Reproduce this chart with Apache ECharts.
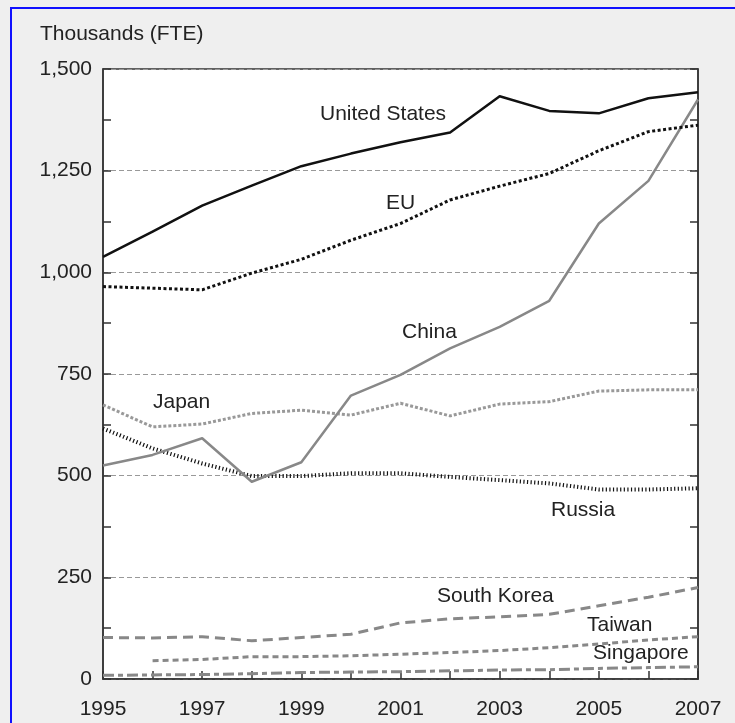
<!DOCTYPE html>
<html>
<head>
<meta charset="utf-8">
<script src="https://cdn.jsdelivr.net/npm/echarts@6/dist/echarts.min.js"></script>
<style>
  html, body { margin: 0; padding: 0; background: #efefef; }
  #frame {
    position: absolute; left: 10px; top: 7px; width: 740px; height: 740px;
    border-left: 2px solid #1010ff; border-top: 2px solid #1010ff;
  }
  #chart { position: absolute; left: 0; top: 0; width: 735px; height: 723px; }
</style>
</head>
<body>
<div id="frame"></div>
<div id="chart"></div>
<script>
// data (thousands of FTE researchers)
const years = [1995, 1996, 1997, 1998, 1999, 2000, 2001, 2002, 2003, 2004, 2005, 2006, 2007]
const unitedStates = [1038, 1100, 1164, 1213, 1261, 1292, 1320, 1344, 1433, 1397, 1391, 1428, 1443]
const eu = [965, 961, 957, 998, 1032, 1079, 1120, 1178, 1212, 1243, 1299, 1346, 1362]
const china = [525, 551, 592, 485, 533, 697, 748, 813, 866, 930, 1120, 1225, 1425]
const japan = [674, 620, 627, 653, 661, 649, 678, 647, 676, 682, 708, 711, 711]
const russia = [616, 567, 530, 499, 499, 506, 506, 497, 489, 481, 466, 466, 469]
const southKorea = [102, 101, 104, 94, 102, 110, 138, 148, 153, 159, 180, 201, 225]
const taiwan = [null, 45, 48, 55, 55, 57, 61, 65, 70, 77, 86, 96, 104]
const singapore = [9, 10, 11, 13, 16, 17, 18, 20, 22, 23, 26, 28, 30]

const pairs = (vals) => years.map((y, i) => [y, vals[i]]).filter(p => p[1] !== null)

const font = 'Liberation Sans, Arial, sans-serif'
const chart = echarts.init(document.getElementById('chart'))

const yAxisBase = {
  type: 'value',
  min: 0,
  max: 1500,
  interval: 250,
  axisLine: { show: true, lineStyle: { color: '#333', width: 1.5 } },
  axisTick: { show: true, inside: true, length: 8, lineStyle: { color: '#333', width: 1.5 } },
  minorTick: { show: true, splitNumber: 2, length: 8, lineStyle: { color: '#333', width: 1.5 } }
}

const line = (name, vals, color, width, dash) => ({
  name: name,
  type: 'line',
  data: pairs(vals),
  symbol: 'none',
  animation: false,
  lineStyle: { color: color, width: width, type: dash, cap: 'butt', join: 'round' }
})

const label = (text, x, y) => ({
  type: 'text',
  left: x,
  top: y,
  style: { text: text, fill: '#222', font: '21px ' + font }
})

const option = {
  animation: false,
  grid: {
    left: 103, top: 69, right: 37, bottom: 44,
    show: true, backgroundColor: '#fff', borderColor: '#333', borderWidth: 1.5
  },
  xAxis: {
    type: 'value',
    min: 1995,
    max: 2007,
    interval: 1,
    axisLine: { show: true, lineStyle: { color: '#333', width: 1.5 } },
    axisTick: { show: true, inside: true, length: 8, lineStyle: { color: '#333', width: 1.5 } },
    splitLine: { show: false },
    axisLabel: {
      color: '#222', fontSize: 21, fontFamily: font, margin: 20,
      formatter: v => (v % 2 === 1 ? String(v) : '')
    }
  },
  yAxis: [
    Object.assign({}, yAxisBase, {
      position: 'left',
      splitLine: {
        show: true,
        lineStyle: { color: '#999', width: 1, type: [5, 3] }
      },
      axisLabel: {
        color: '#222', fontSize: 21, fontFamily: font, margin: 11,
        formatter: v => v.toLocaleString('en-US')
      }
    }),
    Object.assign({}, yAxisBase, {
      position: 'right',
      splitLine: { show: false },
      axisLabel: { show: false }
    })
  ],
  series: [
    line('Singapore', singapore, '#888', 3, [11, 4, 5, 4]),
    line('Taiwan', taiwan, '#888', 3, [6, 4]),
    line('South Korea', southKorea, '#888', 3, [10, 6]),
    line('Russia', russia, '#111', 4, [1.2, 2.4]),
    line('Japan', japan, '#999', 3, [3, 2]),
    line('China', china, '#888', 2.5, 'solid'),
    line('EU', eu, '#111', 3, [3, 2.5]),
    line('United States', unitedStates, '#111', 2.5, 'solid')
  ],
  graphic: [
    label('Thousands (FTE)', 40, 24),
    label('United States', 320, 104),
    label('EU', 386, 193),
    label('China', 402, 322),
    label('Japan', 153, 392),
    label('Russia', 551, 500),
    label('South Korea', 437, 586),
    label('Taiwan', 587, 615),
    label('Singapore', 593, 643)
  ]
}

chart.setOption(option)
</script>
</body>
</html>
